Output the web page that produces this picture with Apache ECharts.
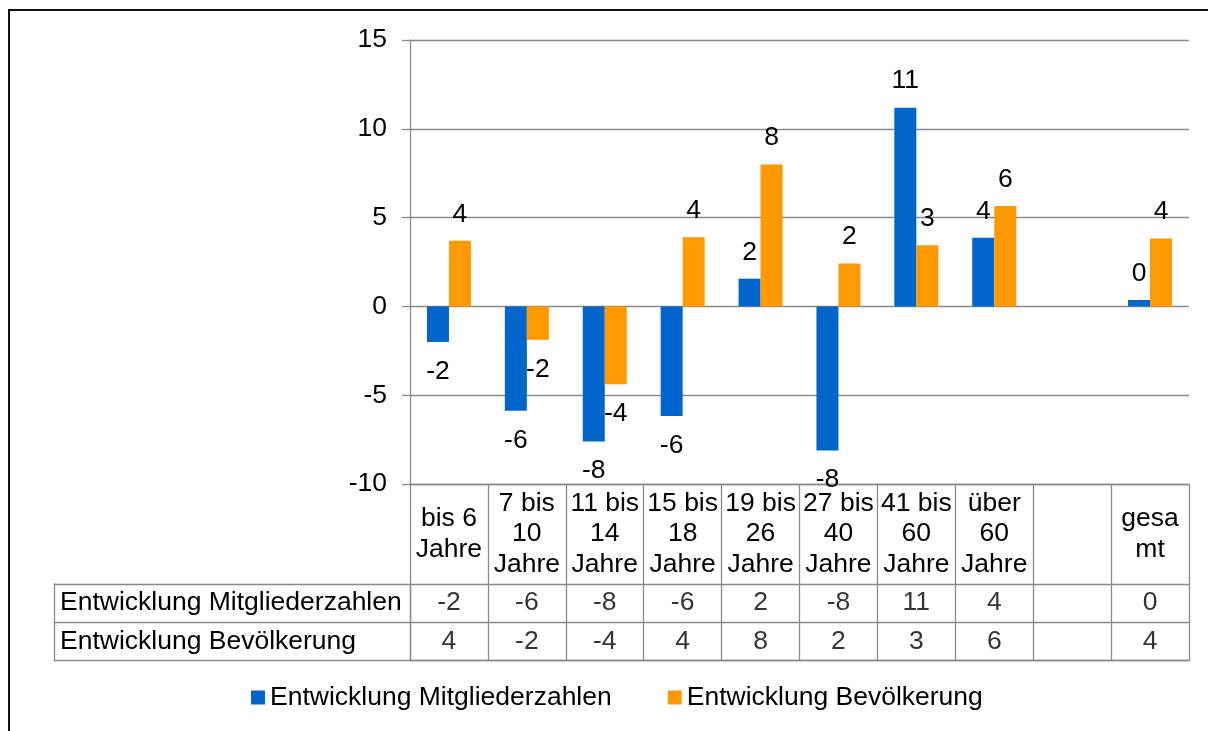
<!DOCTYPE html>
<html><head><meta charset="utf-8">
<script src="https://cdn.jsdelivr.net/npm/echarts@6/dist/echarts.min.js"></script>
<style>html,body{margin:0;padding:0;background:#fff}#c{width:1208px;height:731px}</style>
</head><body><div id="c"></div>
<script>
// ---- data ----
const categories = ['bis 6\nJahre', '7 bis\n10\nJahre', '11 bis\n14\nJahre', '15 bis\n18\nJahre', '19 bis\n26\nJahre', '27 bis\n40\nJahre', '41 bis\n60\nJahre', 'über\n60\nJahre', '', 'gesa\nmt'];
const seriesNames = ['Entwicklung Mitgliederzahlen', 'Entwicklung Bevölkerung'];
const mitglieder = [-2.0, -5.88, -7.6, -6.17, 1.56, -8.12, 11.19, 3.86, null, 0.36];
const bevoelkerung = [3.70, -1.88, -4.39, 3.89, 7.99, 2.41, 3.44, 5.66, null, 3.82];
const yMin = -10, yMax = 15, yStep = 5;

// ---- styling ----
const FONT = 'Liberation Sans, Arial, sans-serif';
const FS = 26.5;
const GREY = '#8a8a8a';
const LW = 1.3;

function fmt(v) {
  if (v == null || v === '-') return '';
  const r = Math.sign(v) * Math.round(Math.abs(v));
  return String(r === 0 ? 0 : r);
}
function barData(arr) {
  return arr.map(v => v == null ? '-' : {
    value: v,
    label: { position: v < 0 ? 'bottom' : 'top', distance: v < 0 ? 16 : 13 }
  });
}
const tableData = [];
mitglieder.forEach((v, i) => { if (v != null) tableData.push([i, 0, v]); });
bevoelkerung.forEach((v, i) => { if (v != null) tableData.push([i, 1, v]); });

const chart = echarts.init(document.getElementById('c'), null, { renderer: 'canvas' });
const barLabel = { show: true, formatter: p => fmt(p.value), fontSize: FS, color: '#000', fontFamily: FONT };

chart.setOption({
  animation: false,
  backgroundColor: '#fff',
  textStyle: { fontFamily: FONT },
  graphic: [{
    type: 'rect', silent: true, z: 100,
    shape: { x: 9, y: 10, width: 1300, height: 800 },
    style: { fill: 'none', stroke: '#111', lineWidth: 2 }
  }],
  legend: {
    data: seriesNames,
    left: 251, top: 684, padding: 0,
    itemWidth: 14, itemHeight: 14, itemGap: 56,
    icon: 'rect',
    textStyle: { fontSize: FS, color: '#000', fontFamily: FONT }
  },
  grid: [
    { left: 410, right: 19, top: 40, height: 444 },
    { left: 410, right: 19, top: 584, height: 76.7 }
  ],
  xAxis: [
    {
      gridIndex: 0, type: 'category', data: categories,
      axisLine: { show: true, onZero: false, lineStyle: { color: GREY, width: LW } },
      axisTick: { show: true, length: 100, interval: 0, alignWithLabel: false, lineStyle: { color: GREY, width: LW } },
      axisLabel: { interval: 0, margin: 50, verticalAlign: 'middle', lineHeight: 30.7, fontSize: FS, color: '#000', fontFamily: FONT },
      splitLine: { show: false }
    },
    {
      gridIndex: 1, type: 'category', data: categories,
      axisLine: { show: true, lineStyle: { color: GREY, width: LW } },
      axisTick: { show: false },
      axisLabel: { show: false },
      splitLine: { show: true, interval: 0, lineStyle: { color: GREY, width: LW } }
    }
  ],
  yAxis: [
    {
      gridIndex: 0, type: 'value', min: yMin, max: yMax, interval: yStep,
      axisLine: { show: true, lineStyle: { color: GREY, width: LW } },
      axisTick: { show: true, length: 8, lineStyle: { color: GREY, width: LW } },
      axisLabel: { margin: 23, fontSize: FS, color: '#000', fontFamily: FONT },
      splitLine: { show: true, lineStyle: { color: GREY, width: LW } }
    },
    {
      gridIndex: 1, type: 'category', data: seriesNames, inverse: true,
      axisLine: { show: true, lineStyle: { color: GREY, width: LW } },
      axisTick: { show: true, length: 356, interval: 0, lineStyle: { color: GREY, width: LW } },
      axisLabel: { align: 'left', margin: 350, fontSize: FS, color: '#000', fontFamily: FONT },
      splitLine: { show: true, interval: 0, lineStyle: { color: GREY, width: LW } }
    },
    {
      gridIndex: 1, type: 'category', data: seriesNames, inverse: true,
      position: 'left', offset: 356,
      axisLine: { show: true, lineStyle: { color: GREY, width: LW } },
      axisTick: { show: false },
      axisLabel: { show: false },
      splitLine: { show: false }
    }
  ],
  series: [
    {
      name: seriesNames[0], type: 'bar', xAxisIndex: 0, yAxisIndex: 0,
      data: barData(mitglieder), barWidth: 22, barGap: '0%',
      itemStyle: { color: '#0066CC' },
      label: barLabel
    },
    {
      name: seriesNames[1], type: 'bar', xAxisIndex: 0, yAxisIndex: 0,
      data: barData(bevoelkerung), barWidth: 22, barGap: '0%',
      itemStyle: { color: '#FF9900' },
      label: barLabel
    },
    {
      type: 'scatter', xAxisIndex: 1, yAxisIndex: 1, symbolSize: 0, silent: true,
      data: tableData,
      label: { show: true, position: 'inside', formatter: p => fmt(p.value[2]), fontSize: FS, color: '#000', fontFamily: FONT }
    }
  ]
});
</script>
</body></html>
